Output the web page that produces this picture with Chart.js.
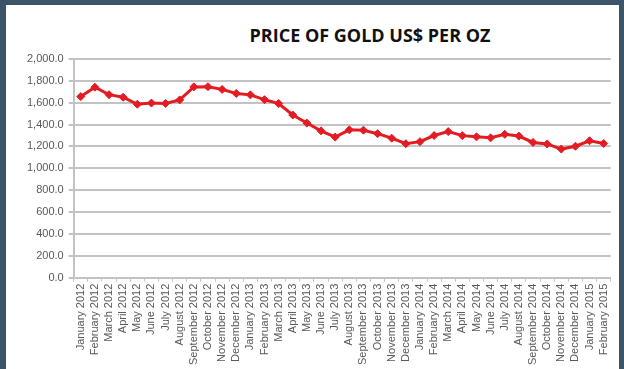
<!DOCTYPE html>
<html>
<head>
<meta charset="utf-8">
<script src="https://cdn.jsdelivr.net/npm/chart.js@4.4.1/dist/chart.umd.min.js"></script>
<style>
  html, body { margin: 0; padding: 0; }
  body { width: 624px; height: 369px; background: #3b5468; position: relative; overflow: hidden; }
  #panel { position: absolute; left: 6px; top: 5px; width: 613px; height: 364px; background: #fff; }
  #title {
    position: absolute; left: 0; top: 18px; width: 728px; text-align: center;
    font-family: "Open Sans", sans-serif; font-weight: 700; font-size: 18px; color: #111;
  }
  #chartBox { position: absolute; left: 0; top: 0; width: 613px; height: 364px; }
</style>
</head>
<body>
<div id="panel">
  <div id="title">PRICE OF GOLD US$ PER OZ</div>
  <div id="chartBox"><canvas id="goldChart"></canvas></div>
</div>
<script>
const months = [
  "January 2012", "February 2012", "March 2012", "April 2012", "May 2012", "June 2012",
  "July 2012", "August 2012", "September 2012", "October 2012", "November 2012", "December 2012",
  "January 2013", "February 2013", "March 2013", "April 2013", "May 2013", "June 2013",
  "July 2013", "August 2013", "September 2013", "October 2013", "November 2013", "December 2013",
  "January 2014", "February 2014", "March 2014", "April 2014", "May 2014", "June 2014",
  "July 2014", "August 2014", "September 2014", "October 2014", "November 2014", "December 2014",
  "January 2015", "February 2015",
];

const goldPrice = [
  1656, 1742, 1674, 1650, 1586, 1597, 1594, 1626, 1745, 1747, 1722, 1685,
  1672, 1628, 1593, 1488, 1414, 1343, 1286, 1352, 1349, 1317, 1276, 1225,
  1244, 1300, 1336, 1299, 1288, 1279, 1311, 1295, 1237, 1223, 1176, 1202,
  1252, 1227,
];

const yMin = 0;
const yMax = 2000;
const yStep = 200;

const RED = "#e31b23";
const GRID = "#c3c3c3";
const TEXT = "#595959";

function formatTick(v) {
  return v.toLocaleString("en-US", { minimumFractionDigits: 1, maximumFractionDigits: 1 });
}

const ctx = document.getElementById("goldChart").getContext("2d");
const goldChart = new Chart(ctx, {
  type: "line",
  data: {
    labels: months,
    datasets: [
      {
        label: "Gold",
        data: goldPrice,
        borderColor: RED,
        backgroundColor: RED,
        borderWidth: 3,
        pointStyle: "rectRot",
        pointRadius: 4,
        pointBorderWidth: 1,
        tension: 0,
      },
    ],
  },
  options: {
    responsive: true,
    maintainAspectRatio: false,
    animation: false,
    layout: { padding: { left: 16, right: 8, top: 54, bottom: 2 } },
    plugins: { legend: { display: false }, tooltip: { enabled: false } },
    scales: {
      x: {
        offset: true,
        grid: { display: true, drawOnChartArea: false, color: GRID, tickLength: 4, offset: true },
        border: { color: GRID, width: 2 },
        ticks: {
          color: TEXT,
          font: { family: "Liberation Sans", size: 11 },
          minRotation: 90,
          maxRotation: 90,
          autoSkip: false,
          padding: 2,
        },
      },
      y: {
        min: yMin,
        max: yMax,
        grid: { color: GRID, lineWidth: 2, tickLength: 5 },
        border: { color: GRID, width: 2 },
        ticks: {
          stepSize: yStep,
          color: TEXT,
          font: { family: "Liberation Sans", size: 11 },
          padding: 5,
          callback: (v) => formatTick(v),
        },
      },
    },
  },
});
</script>
</body>
</html>
